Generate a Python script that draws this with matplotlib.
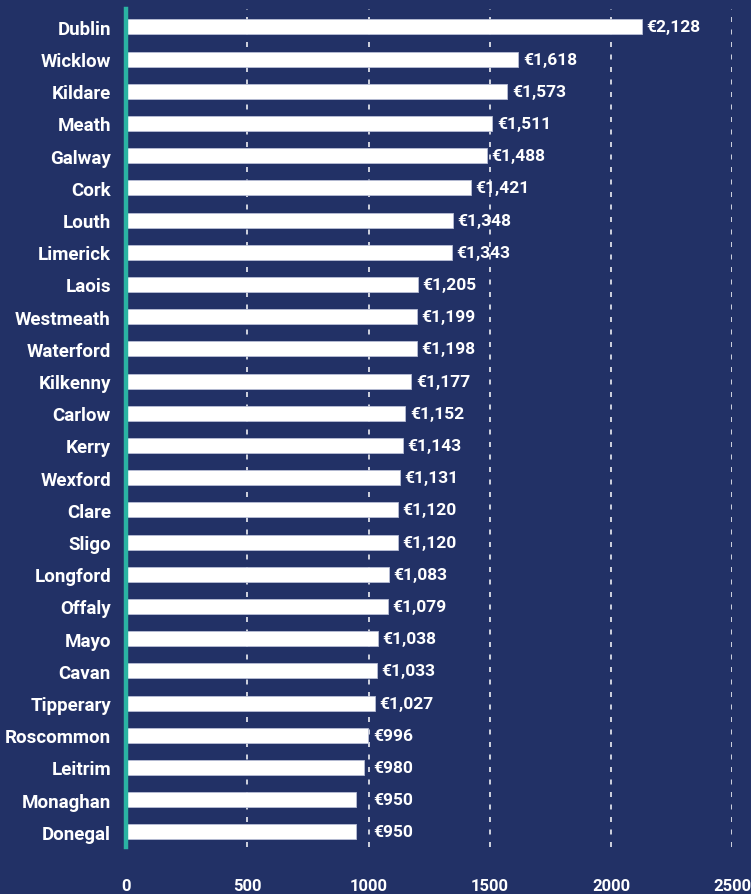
import matplotlib.pyplot as plt
import numpy as np

plt.rcParams['font.family'] = ['Roboto', 'DejaVu Sans']
plt.rcParams['lines.scale_dashes'] = False

counties = ["Dublin", "Wicklow", "Kildare", "Meath", "Galway", "Cork", "Louth",
            "Limerick", "Laois", "Westmeath", "Waterford", "Kilkenny", "Carlow",
            "Kerry", "Wexford", "Clare", "Sligo", "Longford", "Offaly", "Mayo",
            "Cavan", "Tipperary", "Roscommon", "Leitrim", "Monaghan", "Donegal"]
rents = [2128, 1618, 1573, 1511, 1488, 1421, 1348, 1343, 1205, 1199, 1198, 1177,
         1152, 1143, 1131, 1120, 1120, 1083, 1079, 1038, 1033, 1027, 996, 980,
         950, 950]
xticks = [0, 500, 1000, 1500, 2000, 2500]

bg = '#223166'
teal = '#2bb3a3'

fig = plt.figure(figsize=(7.51, 8.95), dpi=100)
fig.patch.set_facecolor(bg)
ax = fig.add_axes([0.168, 0.0525, 0.807, 0.9365])
ax.set_facecolor(bg)

n = len(counties)
y = np.arange(n)[::-1]
ax.barh(y, rents, height=0.47, color='white', edgecolor='#b9bfd6',
        linewidth=0.6, zorder=2)

# labels of short bars sit just past the 1000 gridline
for yi, v in zip(y, rents):
    ax.text(max(v, 1000) + 18, yi, "€{:,}".format(v), color='white', fontsize=12.5,
            fontweight='bold', va='center', ha='left', zorder=3)

for xt in xticks[1:]:
    ax.axvline(xt, color='white', lw=1.1, dashes=(3.6, 5.4), zorder=1)
ax.axvline(0, ymin=0, ymax=1, color=teal, lw=3.2, zorder=4, clip_on=False)

ax.set_xlim(0, 2500)
ax.set_ylim(-0.47, n - 1 + 0.56)
ax.set_yticks(y)
ax.set_yticklabels(counties)
ax.set_xticks(xticks)
ax.set_xticklabels([str(t) for t in xticks])
ax.tick_params(axis='y', length=0, pad=11, labelsize=13.5, labelcolor='white')
ax.tick_params(axis='x', length=0, pad=22, labelsize=12, labelcolor='white')
for lab in ax.get_yticklabels() + ax.get_xticklabels():
    lab.set_fontweight('bold')
for s in ax.spines.values():
    s.set_visible(False)

fig.savefig('out.png', dpi=100, facecolor=bg)
